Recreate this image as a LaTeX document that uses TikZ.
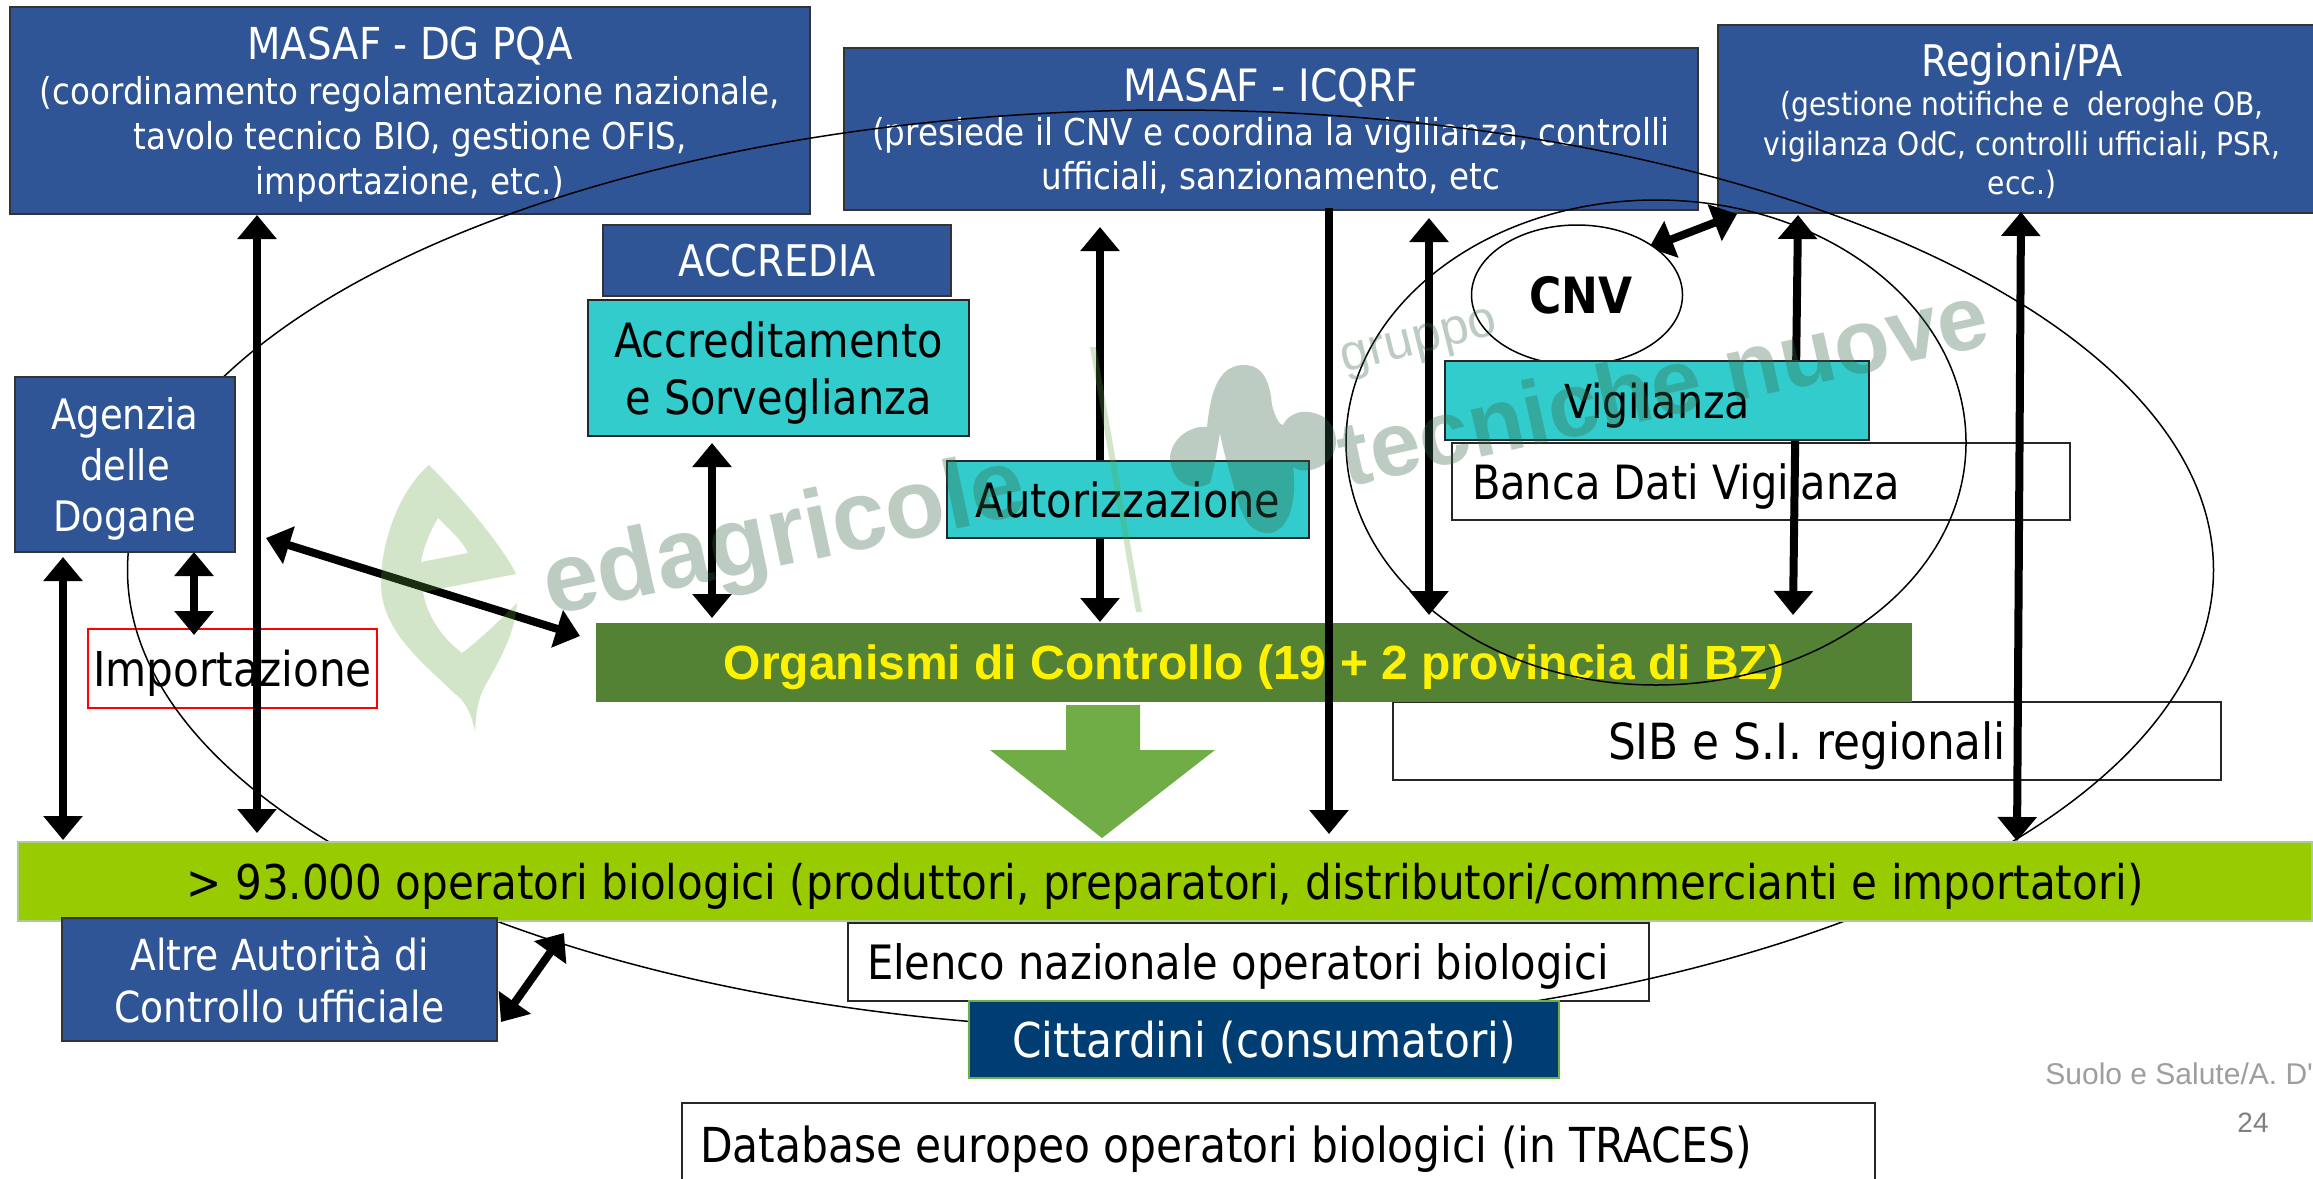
\documentclass[tikz,border=0pt]{standalone}
\usepackage{fontspec}
\setmainfont{DejaVu Sans}[FakeStretch=0.88]
\newfontfamily\arialf{Liberation Sans}
\usetikzlibrary{arrows.meta,shapes.geometric}
\newcommand\fz[2]{\fontsize{#1}{#2}\selectfont}
\definecolor{bluebox}{HTML}{2F5597}
\definecolor{tealbox}{HTML}{33CCCC}
\definecolor{orggreen}{HTML}{548235}
\definecolor{barlime}{HTML}{99CC00}
\definecolor{blockgreen}{HTML}{70AD47}
\definecolor{navybox}{HTML}{003D73}
\definecolor{wmgray}{HTML}{376746}
\definecolor{wmgreen}{HTML}{5FA53A}
\tikzset{
  rect/.style n args={4}{at={(#1,#2)},anchor=north west,rectangle,inner sep=0pt,outer sep=0pt,
    minimum width={(#3-(#1))*0.5pt},minimum height={(#4-(#2))*0.5pt}},
  blue/.style={draw=black!80,line width=1pt,fill=bluebox,text=white,align=center},
  teal/.style={draw=black!85,line width=1pt,fill=tealbox,text=black,align=center},
  plain/.style={draw=black!85,line width=1pt,fill=white,text=black},
  oneline/.style={text depth=0pt},
  ring/.style={ellipse,draw=black,line width=0.75pt,inner sep=0pt,outer sep=0pt},
  link/.style={draw=black,line width=4pt,{Triangle[length=12pt,width=19pt]}-{Triangle[length=12pt,width=19pt]}},
  linkdown/.style={draw=black,line width=4pt,-{Triangle[length=12pt,width=19pt]}},
  wm/.style={text=wmgray,text opacity=0.33,inner sep=0pt},
}
\begin{document}
\begin{tikzpicture}[x=0.5pt,y=-0.5pt]
\useasboundingbox (0,0) rectangle (2313,1178);
\clip (0,0) rectangle (2313,1178);
\fill[white] (0,0) rectangle (2313,1178);
% end points of the connectors
\coordinate (a1t) at (63,557); \coordinate (a1b) at (63,840);
\coordinate (a2t) at (194,552); \coordinate (a2b) at (194,635);
\coordinate (a3t) at (257,215); \coordinate (a3b) at (257,833);
\coordinate (a4t) at (266,538); \coordinate (a4b) at (580,636);
\coordinate (a5t) at (712,443); \coordinate (a5b) at (712,618);
\coordinate (a6t) at (1100,227); \coordinate (a6b) at (1100,622);
\coordinate (a7t) at (1329,208); \coordinate (a7b) at (1329,834);
\coordinate (a8t) at (1429,218); \coordinate (a8b) at (1429,615);
\coordinate (a9t) at (1798,215); \coordinate (a9b) at (1793,615);
\coordinate (a10t) at (2021,212); \coordinate (a10b) at (2017,841);
\coordinate (c1) at (1649,248); \coordinate (c2) at (1737,214);
\coordinate (d1) at (501,1022); \coordinate (d2) at (564,933);
% upper and plain boxes
\node[rect={10}{7}{810}{214},blue,font=\fz{18.5}{22.5},oneline] (dgpqa) {{\fz{22}{26}MASAF - DG PQA}\\(coordinamento regolamentazione nazionale,\\tavolo tecnico BIO, gestione OFIS,\\importazione, etc.)};
\node[rect={844}{48}{1698}{210},blue,font=\fz{18.5}{22},oneline] (icqrf) {{\fz{22.3}{26}MASAF - ICQRF}\\(presiede il CNV e coordina la vigilianza, controlli\\ufficiali, sanzionamento, etc};
\node[rect={1718}{25}{2326}{213},blue,font=\fz{16}{19.7},oneline] (regioni) {{\fz{21.8}{26}Regioni/PA}\\(gestione notifiche e\ \ deroghe OB,\\vigilanza OdC, controlli ufficiali, PSR,\\ecc.)};
\node[rect={603}{225}{951}{296},blue,font=\fz{21.8}{26}] (accredia) {ACCREDIA};
\node[rect={588}{300}{969}{436},teal,font=\fz{23.6}{28.5},oneline] (accred) {Accreditamento\\e Sorveglianza};
\node[rect={1452}{443}{2070}{520},plain,font=\fz{23.6}{28},oneline] (banca) {\makebox[289pt][l]{Banca Dati Vigilanza}};
\node[rect={1393}{702}{2221}{780},plain,font=\fz{24.9}{28},oneline] (sib) {SIB e S.I. regionali};
\node[rect={848}{923}{1649}{1001},plain,font=\fz{23.67}{28},oneline] (elenco) {\makebox[381.5pt][l]{Elenco nazionale operatori biologici}};
\node[rect={682}{1103}{1875}{1185},plain,font=\fz{24.1}{28},oneline] (traces) {\makebox[578.5pt][l]{Database europeo operatori biologici (in TRACES)}};
\node[rect={88}{629}{377}{708},draw=red,line width=1pt,fill=white,font=\fz{24}{28},oneline] (import) {Importazione};
\node[rect={596}{623}{1912}{702},fill=orggreen,text=yellow,font=\arialf\bfseries\fz{24}{28},oneline] (org) {Organismi di Controllo (19 + 2 provincia di BZ)};
% the two large ellipses
\node[ring,minimum width=1043pt,minimum height=460pt] (outer) at (1170.5,570) {};
\node[ring,minimum width=310pt,minimum height=242.5pt] (inner) at (1656,442.5) {};
% connectors
\draw[link] (a1t) -- (a1b);
\draw[link] (a2t) -- (a2b);
\draw[link] (a3t) -- (a3b);
\draw[link] (a4t) -- (a4b);
\draw[link] (a5t) -- (a5b);
\draw[link] (a6t) -- (a6b);
\draw[linkdown] (a7t) -- (a7b);
\draw[link] (a8t) -- (a8b);
\draw[link] (a9t) -- (a9b);
\draw[link] (a10t) -- (a10b);
\draw[link] (c1) -- (c2);
\draw[link] (d1) -- (d2);
% boxes above the connectors
\node[rect={15}{377}{235}{552},blue,font=\fz{21}{25.7},oneline] (dogane) {Agenzia\\delle\\Dogane};
\node[rect={18}{842}{2312}{921},fill=barlime,draw=blockgreen!60,line width=0.75pt,font=\fz{23.9}{28},oneline] (ops) {> 93.000 operatori biologici (produttori, preparatori, distributori/commercianti e importatori)};
\node[rect={62}{918}{497}{1041},blue,font=\fz{21.4}{26}] (altre) {Altre Autorità di\\Controllo ufficiale};
\node[rect={947}{461}{1309}{538},teal,font=\fz{23.6}{28}] (autor) {Autorizzazione};
\node[ellipse,draw=black,line width=0.75pt,fill=white,inner sep=0pt,minimum width=105.5pt,minimum height=70pt,font=\bfseries\fz{25}{28}] (cnv) at (1577,295) {\hspace*{4pt}CNV};
\node[rect={1445}{361}{1869}{440},teal,font=\fz{23.4}{28},oneline] (vigil) {Vigilanza};
\node[rect={969}{1001}{1559}{1078},fill=navybox,draw=blockgreen,line width=1pt,text=white,font=\fz{24}{28},oneline] (citt) {Cittardini (consumatori)};
\fill[blockgreen] (1066,705) -- (1140,705) -- (1140,750) -- (1215,750) -- (1102,838) -- (990,750) -- (1066,750) -- cycle;
% footer
\node[anchor=west,inner sep=0pt,text=black!38,font=\arialf\fz{15}{17}] (foot) at (2045,1074) {Suolo e Salute/A. D'E};
\node[inner sep=0pt,text=black!50,font=\arialf\fz{14}{16}] (page) at (2253,1123) {24};
% watermark
\begin{scope}[even odd rule]
\fill[wmgreen,opacity=0.28]
  (429,465) .. controls (479,515) and (510,560) .. (516,574)
  -- (423,592) .. controls (428,620) and (445,640) .. (462,653)
  .. controls (480,640) and (505,615) .. (517,603)
  .. controls (515,640) and (490,675) .. (483,690)
  .. controls (476,705) and (476,720) .. (475,732)
  .. controls (472,715) and (465,700) .. (454,693)
  .. controls (420,660) and (381,630) .. (381,583)
  .. controls (381,540) and (400,490) .. (429,465) -- cycle
  (438,518) .. controls (428,535) and (423,550) .. (421,562) -- (468,553) .. controls (462,540) and (450,530) .. (438,518) -- cycle;
\end{scope}
\fill[wmgreen,opacity=0.28] (1090,347) -- (1096,347) -- (1142,612) -- (1136,612) -- cycle;
\fill[wmgray,opacity=0.33] (1170,457) .. controls (1172,435) and (1195,425) .. (1207,427)
  .. controls (1210,400) and (1215,365) .. (1244,365)
  .. controls (1265,365) and (1270,385) .. (1272,405)
  .. controls (1276,420) and (1280,425) .. (1283,425)
  .. controls (1290,410) and (1310,408) .. (1325,418)
  .. controls (1340,430) and (1340,455) .. (1323,465)
  .. controls (1312,472) and (1300,472) .. (1293,467)
  .. controls (1298,510) and (1285,535) .. (1265,533)
  .. controls (1245,530) and (1240,510) .. (1232,480)
  .. controls (1226,460) and (1222,445) .. (1220,433)
  .. controls (1217,450) and (1214,470) .. (1210,483)
  .. controls (1200,490) and (1172,490) .. (1170,457) -- cycle;
\node[wm,rotate=12,font=\arialf\bfseries\fz{49}{54}] (wm1) at (785,540) {edagricole};
\node[wm,rotate=12.5,font=\arialf\bfseries\fz{45.5}{50}] (wm2) at (1663,384) {tecniche nuove};
\node[wm,rotate=14,font=\arialf\fz{25.6}{30}] (wm3) at (1420,345) {gruppo};
\end{tikzpicture}
\end{document}
